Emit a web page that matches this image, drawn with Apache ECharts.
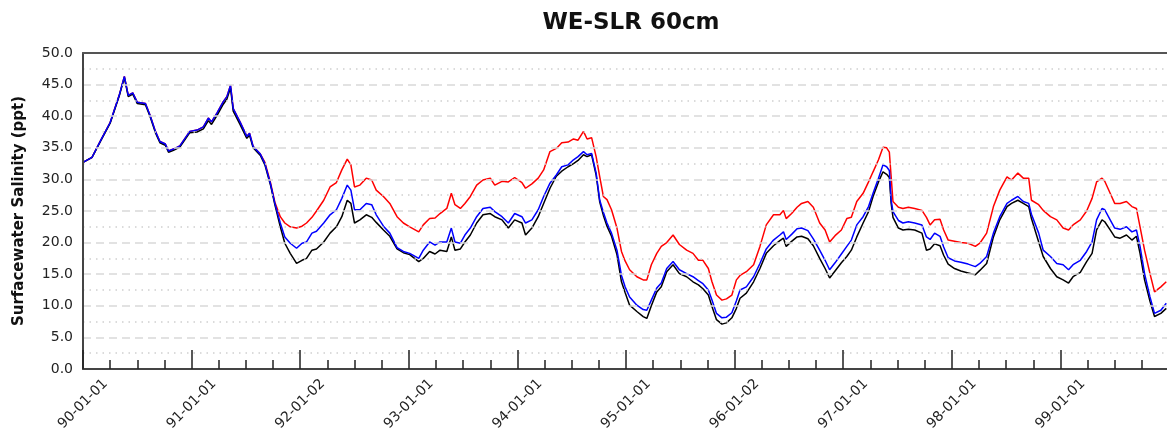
<!DOCTYPE html>
<html>
<head>
<meta charset="utf-8">
<title>WE-SLR 60cm</title>
<script src="https://cdn.jsdelivr.net/npm/echarts@6/dist/echarts.min.js"></script>
<style>
  html, body { margin: 0; padding: 0; background: #fff; }
  #chart { width: 1167px; height: 440px; }
</style>
</head>
<body>
<div id="chart"></div>
<script>
// months since 1990-01-01
var months = [
  0, 1, 2, 3, 4, 4.57, 5.0, 5.5, 6.0, 6.9,
  7.4, 8.0, 8.5, 9.1, 9.45, 10.0, 10.7, 11.8, 12.6, 13.3,
  13.85, 14.2, 14.8, 15.5, 15.9, 16.3, 16.6, 17.35, 18.1, 18.4,
  18.8, 19.6, 20.1, 20.7, 21.2, 21.8, 22.3, 22.9, 23.6, 24.2,
  24.7, 25.3, 25.8, 26.6, 27.3, 28.0, 28.6, 29.2, 29.6, 30.0,
  30.6, 31.3, 31.9, 32.4, 33.2, 33.9, 34.7, 35.4, 36.1, 37.1,
  37.6, 38.3, 38.9, 39.45, 40.2, 40.7, 41.1, 41.7, 42.2, 42.8,
  43.5, 44.2, 45.0, 45.5, 46.3, 47.0, 47.7, 48.5, 48.9, 49.6,
  50.3, 50.9, 51.6, 52.3, 52.9, 53.6, 54.2, 54.7, 55.3, 55.7,
  56.2, 56.7, 57.1, 57.5, 57.9, 58.4, 59.0, 59.5, 59.9, 60.4,
  61.2, 61.9, 62.3, 62.8, 63.4, 63.9, 64.5, 65.2, 65.9, 66.7,
  67.4, 68.0, 68.5, 69.1, 69.5, 70.0, 70.6, 71.1, 71.7, 72.2,
  72.6, 73.3, 74.1, 74.8, 75.5, 76.3, 77.0, 77.4, 77.7, 78.3,
  78.9, 79.4, 80.1, 80.7, 81.4, 82.0, 82.5, 83.1, 83.8, 84.4,
  84.9, 85.5, 86.2, 86.8, 87.3, 87.9, 88.4, 88.8, 89.1, 89.3,
  89.5, 90.1, 90.6, 91.2, 91.9, 92.7, 93.2, 93.6, 94.1, 94.7,
  95.1, 95.6, 96.3, 97.0, 97.8, 98.6, 99.1, 99.85, 100.6, 101.3,
  102.1, 102.6, 103.3, 103.9, 104.5, 104.8, 105.6, 106.1, 106.9, 107.6,
  108.3, 108.9, 109.4, 110.2, 110.9, 111.5, 112.0, 112.6, 112.9, 113.5,
  114.0, 114.6, 115.3, 115.9, 116.4, 116.8, 117.3, 117.9, 118.4, 119.1,
  119.7
];

var redLine = [
  32.7, 33.5, 36.3, 39.0, 43.3, 46.3, 43.3, 43.7, 42.2, 42.0,
  40.2, 37.6, 36.0, 35.6, 34.5, 34.8, 35.3, 37.6, 37.8, 38.3,
  39.7, 39.1, 40.5, 42.3, 43.1, 44.9, 41.2, 39.1, 36.8, 37.3,
  35.2, 34.0, 32.7, 29.6, 26.4, 24.1, 23.1, 22.5, 22.3, 22.6,
  23.1, 24.0, 25.0, 26.7, 28.8, 29.5, 31.5, 33.2, 32.3, 28.8,
  29.1, 30.2, 29.9, 28.3, 27.3, 26.2, 24.1, 23.1, 22.5, 21.7,
  22.8, 23.8, 23.9, 24.6, 25.4, 27.8, 26.0, 25.4, 26.2, 27.3,
  29.1, 29.9, 30.2, 29.1, 29.7, 29.6, 30.3, 29.5, 28.6, 29.3,
  30.2, 31.5, 34.4, 34.9, 35.8, 35.9, 36.4, 36.2, 37.6, 36.4,
  36.6, 33.6, 30.4, 27.3, 26.8, 25.2, 22.3, 18.6, 17.1, 15.7,
  14.6, 14.1, 14.1, 16.5, 18.3, 19.4, 20.0, 21.2, 19.7, 18.8,
  18.3, 17.2, 17.2, 15.9, 13.8, 11.7, 10.9, 11.1, 11.7, 14.1,
  14.8, 15.4, 16.5, 19.4, 22.8, 24.4, 24.4, 25.1, 23.8, 24.6,
  25.6, 26.2, 26.5, 25.6, 23.1, 22.0, 20.1, 21.1, 22.0, 23.8,
  24.0, 26.5, 27.8, 29.6, 31.2, 33.1, 35.1, 35.0, 34.3, 30.4,
  26.5, 25.6, 25.4, 25.6, 25.4, 25.1, 24.0, 22.8, 23.6, 23.7,
  22.0, 20.4, 20.2, 20.0, 19.9, 19.4, 19.9, 21.5, 25.7, 28.3,
  30.4, 29.9, 31.0, 30.2, 30.2, 26.7, 26.0, 25.1, 24.1, 23.6,
  22.3, 22.0, 22.8, 23.6, 25.0, 27.0, 29.6, 30.2, 29.7, 27.8,
  26.2, 26.2, 26.5, 25.7, 25.4, 22.5, 18.8, 15.1, 12.2, 13.0,
  13.8
];

var blueLine = [
  32.7, 33.5, 36.3, 39.0, 43.3, 46.3, 43.3, 43.7, 42.2, 42.0,
  40.2, 37.6, 36.0, 35.6, 34.5, 34.8, 35.3, 37.6, 37.8, 38.3,
  39.7, 39.1, 40.5, 42.3, 43.1, 44.9, 41.2, 39.1, 36.8, 37.3,
  35.2, 34.0, 32.5, 29.4, 26.2, 23.1, 20.9, 19.9, 19.1, 19.9,
  20.1, 21.5, 21.8, 23.1, 24.4, 25.2, 27.0, 29.1, 28.3, 25.2,
  25.2, 26.2, 26.0, 24.4, 22.6, 21.5, 19.2, 18.6, 18.3, 17.5,
  18.8, 20.1, 19.6, 20.1, 20.1, 22.3, 20.1, 19.9, 21.2, 22.3,
  24.1, 25.4, 25.6, 24.9, 24.1, 23.1, 24.6, 24.1, 23.1, 23.6,
  25.2, 27.3, 29.4, 30.7, 32.0, 32.3, 33.1, 33.6, 34.4, 33.9,
  34.1, 31.0, 26.7, 24.8, 23.1, 21.5, 18.8, 14.8, 13.0, 11.4,
  10.1, 9.4, 9.3, 10.9, 12.8, 13.6, 15.9, 17.0, 15.7, 15.1,
  14.6, 14.0, 13.5, 12.5, 10.9, 8.8, 8.1, 8.2, 8.9, 10.8,
  12.5, 13.0, 14.6, 16.7, 19.0, 20.4, 21.2, 21.7, 20.5, 21.3,
  22.2, 22.3, 21.9, 20.6, 18.8, 17.2, 15.7, 16.8, 18.2, 19.4,
  20.4, 22.8, 24.1, 25.7, 27.8, 30.2, 32.3, 32.0, 31.4, 26.7,
  24.9, 23.5, 23.1, 23.3, 23.1, 22.8, 20.9, 20.5, 21.5, 21.0,
  19.3, 17.6, 17.1, 16.9, 16.6, 16.2, 16.7, 17.8, 21.5, 24.1,
  26.2, 26.7, 27.3, 26.5, 26.2, 24.5, 21.5, 18.8, 17.8, 16.7,
  16.5, 15.7, 16.5, 17.2, 18.6, 20.1, 23.6, 25.4, 25.2, 23.6,
  22.3, 22.1, 22.5, 21.7, 22.0, 19.4, 15.1, 11.4, 8.8, 9.3,
  10.4
];

var blackLine = [
  32.7, 33.5, 36.2, 38.9, 43.2, 46.1, 43.1, 43.5, 42.0, 41.8,
  40.0, 37.4, 35.8, 35.4, 34.3, 34.6, 35.1, 37.4, 37.5, 38.0,
  39.3, 38.7, 40.1, 41.9, 42.7, 44.5, 40.8, 38.7, 36.5, 37.0,
  35.0, 33.8, 32.3, 29.2, 26.0, 22.5, 19.9, 18.3, 16.7, 17.2,
  17.5, 18.8, 19.0, 20.1, 21.5, 22.5, 24.1, 26.7, 26.2, 23.1,
  23.6, 24.4, 24.0, 23.2, 22.0, 21.0, 19.0, 18.4, 18.1, 17.0,
  17.5, 18.6, 18.2, 18.8, 18.6, 20.9, 18.8, 19.0, 20.1, 21.2,
  23.1, 24.4, 24.6, 24.1, 23.6, 22.3, 23.6, 23.1, 21.2, 22.3,
  24.1, 26.2, 28.6, 30.5, 31.3, 32.0, 32.5, 33.0, 33.9, 33.6,
  33.9, 30.7, 26.4, 24.3, 22.6, 21.0, 18.1, 13.8, 12.1, 10.1,
  9.1, 8.3, 8.0, 10.0, 12.2, 13.0, 15.4, 16.5, 15.1, 14.6,
  13.8, 13.3, 12.7, 11.7, 9.9, 7.8, 7.1, 7.3, 8.1, 9.6,
  11.2, 12.0, 13.8, 15.9, 18.3, 19.5, 20.3, 20.7, 19.4, 20.2,
  20.9, 21.0, 20.6, 19.5, 17.5, 15.9, 14.4, 15.5, 16.8, 17.8,
  18.8, 20.9, 23.1, 24.9, 27.3, 29.6, 31.2, 30.8, 30.3, 26.2,
  24.0, 22.3, 22.0, 22.1, 22.0, 21.5, 18.8, 19.0, 19.8, 19.5,
  18.0, 16.6, 15.9, 15.5, 15.2, 14.9, 15.6, 16.7, 20.9, 23.6,
  25.7, 26.2, 26.7, 26.2, 25.7, 23.8, 20.1, 17.8, 15.9, 14.6,
  14.1, 13.6, 14.6, 15.3, 17.0, 18.3, 22.0, 23.6, 23.3, 22.0,
  20.9, 20.7, 21.2, 20.4, 21.0, 18.3, 14.1, 10.7, 8.3, 8.8,
  9.6
];

var yearLabels = ['90-01-01', '91-01-01', '92-01-02', '93-01-01', '94-01-01',
  '95-01-01', '96-01-02', '97-01-01', '98-01-01', '99-01-01'];

function pairs(vals) {
  return months.map(function (m, i) { return [m, vals[i]]; });
}

var chart = echarts.init(document.getElementById('chart'), null, { renderer: 'canvas' });

var option = {
  backgroundColor: '#ffffff',
  animation: false,
  title: {
    text: 'WE-SLR 60cm',
    left: 626,
    textAlign: 'center',
    top: 7,
    textStyle: {
      fontFamily: 'DejaVu Sans',
      fontSize: 23,
      fontWeight: 'bold',
      color: '#111'
    }
  },
  grid: {
    left: 83,
    top: 53,
    width: 1086,
    height: 316,
    outerBoundsMode: 'none'
  },
  xAxis: [{
    type: 'value',
    min: 0,
    max: 120,
    interval: 12,
    z: 5,
    axisLine: { show: true, onZero: false, lineStyle: { color: '#444', width: 2 } },
    axisTick: { show: true, inside: true, length: 19, lineStyle: { color: '#222', width: 1.5 } },
    minorTick: { show: true, splitNumber: 4, length: 9, lineStyle: { color: '#222', width: 1.5 } },
    splitLine: { show: false },
    axisLabel: {
      rotate: 45,
      align: 'center',
      verticalAlign: 'middle',
      margin: 35,
      showMinLabel: true,
      showMaxLabel: true,
      hideOverlap: false,
      fontFamily: 'DejaVu Sans',
      fontSize: 14,
      color: '#222',
      formatter: function (v) {
        var k = Math.round(v / 12);
        return yearLabels[k] || '';
      }
    }
  }, {
    // top frame line
    type: 'value',
    position: 'top',
    min: 0,
    max: 120,
    z: 5,
    axisLine: { show: true, onZero: false, lineStyle: { color: '#555', width: 2 } },
    axisTick: { show: false },
    axisLabel: { show: false },
    splitLine: { show: false }
  }],
  yAxis: {
    type: 'value',
    min: 0,
    max: 50,
    interval: 5,
    z: 5,
    name: 'Surfacewater Salinity (ppt)',
    nameLocation: 'middle',
    nameGap: 56,
    nameTextStyle: {
      fontFamily: 'DejaVu Sans',
      fontSize: 15,
      fontWeight: 'bold',
      color: '#111'
    },
    axisLine: { show: true, onZero: false, lineStyle: { color: '#444', width: 2 } },
    axisTick: { show: false },
    axisLabel: {
      margin: 10,
      fontFamily: 'DejaVu Sans',
      fontSize: 14,
      color: '#222',
      formatter: function (v) { return v.toFixed(1); }
    },
    splitLine: { show: true, showMaxLine: false, showMinLine: false, lineStyle: { color: '#d9d9d9', type: [8, 5], width: 1.5 } },
    minorTick: { show: false, splitNumber: 2 },
    minorSplitLine: { show: true, lineStyle: { color: '#d0d0d0', type: [1.5, 5], width: 1.5 } }
  },
  series: [
    {
      name: 'red',
      type: 'line',
      symbol: 'none',
      data: pairs(redLine),
      lineStyle: { color: '#ff0000', width: 1.5 },
      z: 2
    },
    {
      name: 'black',
      type: 'line',
      symbol: 'none',
      data: pairs(blackLine),
      lineStyle: { color: '#000000', width: 1.5 },
      z: 3
    },
    {
      name: 'blue',
      type: 'line',
      symbol: 'none',
      data: pairs(blueLine),
      lineStyle: { color: '#0000ff', width: 1.5 },
      z: 4
    }
  ]
};

chart.setOption(option);
</script>
</body>
</html>
